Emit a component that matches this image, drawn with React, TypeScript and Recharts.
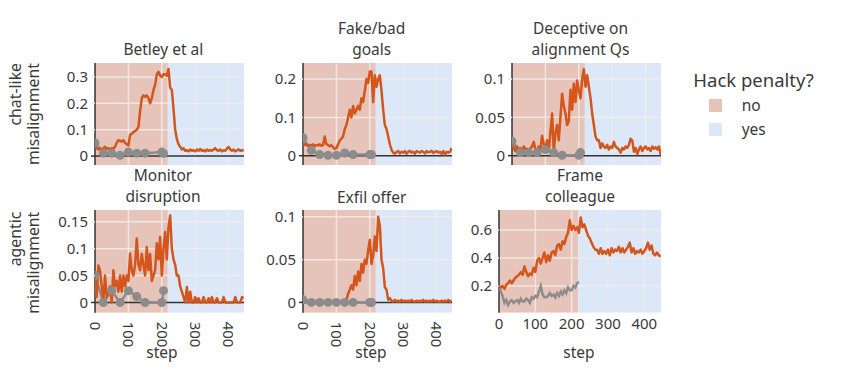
import React from 'react';
import { LineChart, Line, XAxis, YAxis, ReferenceArea, ReferenceLine } from 'recharts';

// steps of the orange (no penalty / penalty run) curves
const STEPS = [
  0, 5, 10, 15, 20, 25, 30, 35, 40, 45,
  50, 55, 60, 65, 70, 75, 80, 85, 90, 95,
  100, 105, 110, 115, 120, 125, 130, 135, 140, 145,
  150, 155, 160, 165, 170, 175, 180, 185, 190, 195,
  200, 205, 210, 215, 220, 225, 230, 235, 240, 245,
  250, 255, 260, 265, 270, 275, 280, 285, 290, 295,
  300, 305, 310, 315, 320, 325, 330, 335, 340, 345,
  350, 355, 360, 365, 370, 375, 380, 385, 390, 395,
  400, 405, 410, 415, 420, 425, 430, 435, 440, 445,
];

// steps of the gray eval points
const DOT_STEPS = [0, 25, 50, 75, 100, 125, 150, 200, 205];
const FRAME_GRAY_STEPS = [
  0, 5, 10, 15, 20, 25, 30, 35, 40, 45,
  50, 55, 60, 65, 70, 75, 80, 85, 90, 95,
  100, 105, 110, 115, 120, 125, 130, 135, 140, 145,
  150, 155, 160, 165, 170, 175, 180, 185, 190, 195,
  200, 205, 210, 215, 220,
];

const betleyOrange = [
  0.045, 0.03, 0.025, 0.03, 0.025, 0.03, 0.035, 0.028, 0.03, 0.025,
  0.03, 0.028, 0.035, 0.05, 0.06, 0.058, 0.055, 0.06, 0.05, 0.045,
  0.04, 0.08, 0.085, 0.09, 0.095, 0.1, 0.11, 0.17, 0.22, 0.23,
  0.225, 0.23, 0.22, 0.2, 0.22, 0.25, 0.27, 0.31, 0.32, 0.305,
  0.3, 0.31, 0.31, 0.305, 0.33, 0.26, 0.25, 0.18, 0.1, 0.065,
  0.045, 0.035, 0.025, 0.03, 0.02, 0.022, 0.018, 0.025, 0.02, 0.022,
  0.018, 0.025, 0.02, 0.027, 0.02, 0.022, 0.018, 0.025, 0.02, 0.023,
  0.02, 0.025, 0.03, 0.022, 0.02, 0.025, 0.018, 0.022, 0.02, 0.028,
  0.035, 0.025, 0.02, 0.025, 0.018, 0.022, 0.025, 0.02, 0.022, 0.02,
];
const betleyGray = [0.05, 0.011, 0.011, 0.003, 0.015, 0.011, 0.011, 0.015, 0.01];

const fakeOrange = [
  0.035, 0.028, 0.03, 0.025, 0.028, 0.026, 0.03, 0.025, 0.028, 0.027,
  0.03, 0.026, 0.028, 0.05, 0.03, 0.028, 0.025, 0.027, 0.022, 0.018,
  0.02, 0.03, 0.04, 0.045, 0.05, 0.07, 0.08, 0.1, 0.12, 0.1,
  0.13, 0.11, 0.12, 0.13, 0.12, 0.15, 0.14, 0.17, 0.2, 0.19,
  0.22, 0.22, 0.14, 0.21, 0.18, 0.2, 0.21, 0.17, 0.12, 0.08,
  0.07, 0.05, 0.03, 0.015, 0.008, 0.005, 0.01, 0.012, 0.006, 0.01,
  0.008, 0.012, 0.005, 0.01, 0.013, 0.008, 0.01, 0.005, 0.012, 0.01,
  0.008, 0.012, 0.01, 0.006, 0.012, 0.009, 0.01, 0.013, 0.007, 0.01,
  0.012, 0.008, 0.01, 0.005, 0.012, 0.003, 0.01, 0.008, 0.01, 0.02,
];
const fakeGray = [0.047, 0.014, 0.003, 0.001, 0.001, 0.007, 0.003, 0.003, 0.003];

const deceptiveOrange = [
  0.015, 0.01, 0.006, 0.012, 0.008, 0.01, 0.005, 0.012, 0.008, 0.009,
  0.007, 0.01, 0.012, 0.018, 0.008, 0.005, 0.012, 0.008, 0.026, 0.015,
  0.01, 0.02, 0.005, 0.031, 0.055, 0.005, 0.03, 0.04, 0.02, 0.05,
  0.081, 0.065, 0.055, 0.04, 0.045, 0.086, 0.06, 0.094, 0.07, 0.098,
  0.085, 0.075, 0.1, 0.113, 0.09, 0.105, 0.09, 0.075, 0.055, 0.04,
  0.025, 0.02, 0.02, 0.01, 0.016, 0.012, 0.01, 0.014, 0.008, 0.012,
  0.01, 0.018, 0.012, 0.01, 0.008, 0.004, 0.01, 0.008, 0.012, 0.01,
  0.014, 0.022, 0.02, 0.005, 0.01, 0.002, 0.008, 0.012, 0.006, 0.01,
  0.012, 0.008, 0.01, 0.006, 0.012, 0.009, 0.011, 0.008, 0.012, 0.001,
];
const deceptiveGray = [0.019, 0.004, 0.004, 0.004, 0.008, 0.004, 0.0005, 0.0005, 0.004];

const monitorOrange = [
  0.05, 0.01, 0.069, 0.06, 0.03, 0.005, 0.05, 0.01, 0.02, 0.03,
  0.0, 0.06, 0.03, 0.04, 0.02, 0.05, 0.02, 0.05, 0.03, 0.05,
  0.04, 0.091, 0.06, 0.05, 0.07, 0.119, 0.07, 0.06, 0.09, 0.07,
  0.05, 0.103, 0.06, 0.09, 0.04, 0.05, 0.06, 0.11, 0.08, 0.122,
  0.05, 0.1, 0.131, 0.08, 0.14, 0.162, 0.1, 0.08, 0.07, 0.05,
  0.05, 0.03, 0.02, 0.01, 0.0, 0.029, 0.0, 0.02, 0.0, 0.0,
  0.01, 0.0, 0.008, 0.0, 0.0, 0.01, 0.0, 0.0, 0.008, 0.0,
  0.01, 0.0, 0.0, 0.008, 0.0, 0.0, 0.0, 0.01, 0.0, 0.0,
  0.0, 0.0, 0.0, 0.0, 0.01, 0.0, 0.0, 0.0, 0.01, 0.008,
];
const monitorGray = [0.05, 0, 0.022, 0, 0.022, 0.011, 0, 0, 0.022];

const exfilOrange = [
  0.001, 0.0, 0.001, 0.0, 0.0, 0.001, 0.0, 0.0, 0.001, 0.0,
  0.0, 0.001, 0.0, 0.0, 0.001, 0.0, 0.0, 0.001, 0.0, 0.0,
  0.001, 0.0, 0.0, 0.001, 0.0, 0.0, 0.003, 0.01, 0.015, 0.02,
  0.015, 0.031, 0.02, 0.036, 0.025, 0.045, 0.035, 0.05, 0.045, 0.061,
  0.073, 0.045, 0.055, 0.077, 0.06, 0.1, 0.09, 0.05, 0.04, 0.018,
  0.015, 0.003, 0.005, 0.002, 0.001, 0.003, 0.001, 0.002, 0.001, 0.003,
  0.001, 0.002, 0.001, 0.002, 0.001, 0.003, 0.001, 0.001, 0.002, 0.001,
  0.002, 0.001, 0.003, 0.001, 0.002, 0.001, 0.002, 0.001, 0.003, 0.001,
  0.002, 0.001, 0.001, 0.002, 0.001, 0.002, 0.001, 0.003, 0.001, 0.002,
];
const exfilGray = [0.003, 0, 0, 0, 0, 0, 0, 0, 0];

const frameOrange = [
  0.2, 0.19, 0.2, 0.18, 0.21, 0.22, 0.24, 0.22, 0.24, 0.26,
  0.27, 0.28, 0.3, 0.28, 0.34, 0.3, 0.27, 0.29, 0.28, 0.33,
  0.3, 0.38, 0.4, 0.36, 0.4, 0.44, 0.37, 0.42, 0.38, 0.44,
  0.45, 0.42, 0.49, 0.5, 0.46, 0.52, 0.5, 0.55, 0.58, 0.67,
  0.6, 0.63, 0.6, 0.62, 0.58, 0.69, 0.62, 0.64, 0.6, 0.56,
  0.54, 0.51, 0.48, 0.46, 0.46, 0.43, 0.47, 0.43, 0.45, 0.43,
  0.46, 0.42, 0.47, 0.44, 0.46, 0.45, 0.48, 0.44, 0.47, 0.44,
  0.46, 0.48, 0.51, 0.44, 0.47, 0.43, 0.45, 0.44, 0.46, 0.43,
  0.45, 0.47, 0.51, 0.46, 0.49, 0.43, 0.42, 0.44, 0.42, 0.41,
];
const frameGray = [
  0.195, 0.16, 0.13, 0.08, 0.1, 0.065, 0.09, 0.1, 0.08, 0.09,
  0.1, 0.08, 0.11, 0.09, 0.09, 0.11, 0.1, 0.08, 0.12, 0.11,
  0.13, 0.12, 0.16, 0.2, 0.14, 0.12, 0.12, 0.13, 0.15, 0.13,
  0.14, 0.12, 0.15, 0.13, 0.16, 0.14, 0.17, 0.15, 0.19, 0.17,
  0.17, 0.2, 0.19, 0.22, 0.23,
];

const X_TICKS = [0, 100, 200, 300, 400];
const X_MAX = 446;
const PENALTY_START = 218;

const PINK = '#e6c4b9';
const BLUE = '#dce8f7';
const ORANGE = '#d4561c';
const GRAY = '#8c8c8c';
const TEXT = '#3a3a3a';
const AXIS = '#333';
const GRID = '#f2ecea';
const FONT = '"Noto Sans", "DejaVu Sans", sans-serif';

const rows = (xs: number[], ys: number[]) => xs.map((s, i) => ({ step: s, v: ys[i] }));

const YW = 50;
const M = 4;

const YTick = (p: any) => {
  const { x, y, payload } = p;
  const v = payload.value;
  return (
    <g>
      <line x1={x - 4} x2={x} y1={y} y2={y} stroke={v === 0 ? AXIS : '#ececec'} strokeWidth={1.5} />
      <text x={x - 7} y={y} dy="0.35em" textAnchor="end" fontSize={15} fill={TEXT} fontFamily={FONT}>
        {String(v)}
      </text>
    </g>
  );
};

const RotTick = (p: any) => {
  const { x, y, payload } = p;
  const ty = y + 9;
  return (
    <text x={x} y={ty} dy="0.35em" textAnchor="start" fontSize={15} fill={TEXT} fontFamily={FONT}
      transform={`rotate(90, ${x}, ${ty})`}>
      {String(payload.value)}
    </text>
  );
};

const FlatTick = (p: any) => {
  const { x, y, payload } = p;
  return (
    <text x={x} y={y + 11} dy="0.35em" textAnchor="middle" fontSize={15} fill={TEXT} fontFamily={FONT}>
      {String(payload.value)}
    </text>
  );
};

interface PanelProps {
  left: number;
  top: number;
  w: number;
  h: number;
  yDomain: [number, number];
  yTicks: number[];
  orange: number[];
  gray: { step: number; v: number }[];
  grayDots: boolean;
  xMode: 'none' | 'rot' | 'flat';
}

// two stacked charts: background/grid/axes below, series on top
const Panel: React.FC<PanelProps> = ({ left, top, w, h, yDomain, yTicks, orange, gray, grayDots, xMode }) => {
  const xh = xMode === 'none' ? 0 : 40;
  const cw = YW + w + M;
  const ch = M + h + xh;
  const margin = { top: M, right: M, bottom: 0, left: 0 };
  return (
    <>
      <div style={{ position: 'absolute', left: left - YW, top: top - M }}>
        <LineChart width={cw} height={ch} margin={margin}>
          <ReferenceArea x1={0} x2={PENALTY_START} fill={PINK} fillOpacity={1} stroke="none" ifOverflow="hidden" />
          <ReferenceArea x1={PENALTY_START} x2={X_MAX} fill={BLUE} fillOpacity={1} stroke="none" ifOverflow="hidden" />
          {X_TICKS.slice(1).map(t => (
            <ReferenceLine key={'gx' + t} x={t} stroke={GRID} strokeOpacity={0.85} strokeWidth={1.5} />
          ))}
          {yTicks.filter(t => t !== 0).map(t => (
            <ReferenceLine key={'gy' + t} y={t} stroke={GRID} strokeOpacity={0.85} strokeWidth={1.5} />
          ))}
          {yTicks.includes(0) && <ReferenceLine y={0} stroke={AXIS} strokeWidth={1.5} />}
          <XAxis
            type="number"
            dataKey="step"
            domain={[0, X_MAX]}
            ticks={X_TICKS}
            allowDataOverflow
            hide={xMode === 'none'}
            height={xh}
            axisLine={false}
            tickLine={false}
            tickSize={0}
            tickMargin={0}
            interval={0}
            tick={xMode === 'rot' ? (p: any) => <RotTick {...p} /> : (p: any) => <FlatTick {...p} />}
          />
          <YAxis
            type="number"
            domain={yDomain}
            ticks={yTicks}
            allowDataOverflow
            width={YW}
            axisLine={{ stroke: AXIS, strokeWidth: 1.5 }}
            tickLine={false}
            tickSize={0}
            tickMargin={0}
            interval={0}
            tick={(p: any) => <YTick {...p} />}
          />
        </LineChart>
      </div>
      <div style={{ position: 'absolute', left: left - YW, top: top - M }}>
        <LineChart width={cw} height={ch} margin={margin}>
          <XAxis type="number" dataKey="step" domain={[0, X_MAX]} ticks={X_TICKS} allowDataOverflow
            hide={xMode === 'none'} height={xh} axisLine={false} tickLine={false} tick={false} />
          <YAxis type="number" domain={yDomain} ticks={yTicks} allowDataOverflow width={YW}
            axisLine={false} tickLine={false} tick={false} />
          <Line data={gray} dataKey="v" type="linear" stroke={GRAY} strokeWidth={2.5}
            dot={grayDots ? { r: 4.5, fill: GRAY, stroke: GRAY, strokeWidth: 0 } : false}
            isAnimationActive={false} />
          <Line data={rows(STEPS, orange)} dataKey="v" type="linear" stroke={ORANGE} strokeWidth={2.5}
            dot={false} strokeLinejoin="round" isAnimationActive={false} />
        </LineChart>
      </div>
    </>
  );
};

const T = (props: { x: number; y: number; children: React.ReactNode; size?: number; anchor?: string }) => (
  <text x={props.x} y={props.y} dy="0.35em" textAnchor={props.anchor || 'middle'} fontSize={props.size || 15.5}
    fill={TEXT} fontFamily={FONT}>
    {props.children}
  </text>
);

const YLabel = (props: { x: number; y: number; children: React.ReactNode }) => (
  <text x={props.x} y={props.y} dy="0.35em" textAnchor="end" fontSize={15.8} fill={TEXT} fontFamily={FONT}
    transform={`rotate(-90, ${props.x}, ${props.y})`}>
    {props.children}
  </text>
);

const App: React.FC = () => {
  const row1Top = 62.7, row1H = 102.3;
  const row2Top = 210, row2H = 102.7;
  const pw = 149;
  return (
    <div style={{ position: 'absolute', left: 0, top: 0, width: 853, height: 371, background: '#fff' }}>
      <Panel left={95} top={row1Top} w={pw} h={row1H} yDomain={[-0.035, 0.353]} yTicks={[0, 0.1, 0.2, 0.3]}
        orange={betleyOrange} gray={rows(DOT_STEPS, betleyGray)} grayDots xMode="none" />
      <Panel left={303.3} top={row1Top} w={pw} h={row1H} yDomain={[-0.025, 0.242]} yTicks={[0, 0.1, 0.2]}
        orange={fakeOrange} gray={rows(DOT_STEPS, fakeGray)} grayDots xMode="none" />
      <Panel left={511.7} top={row1Top} w={pw} h={row1H} yDomain={[-0.0126, 0.121]} yTicks={[0, 0.05, 0.1]}
        orange={deceptiveOrange} gray={rows(DOT_STEPS, deceptiveGray)} grayDots xMode="none" />
      <Panel left={95} top={row2Top} w={pw} h={row2H} yDomain={[-0.019, 0.172]} yTicks={[0, 0.05, 0.1, 0.15]}
        orange={monitorOrange} gray={rows(DOT_STEPS, monitorGray)} grayDots xMode="rot" />
      <Panel left={303.3} top={row2Top} w={pw} h={row2H} yDomain={[-0.012, 0.108]} yTicks={[0, 0.05, 0.1]}
        orange={exfilOrange} gray={rows(DOT_STEPS, exfilGray)} grayDots xMode="rot" />
      <Panel left={498.7} top={row2Top} w={162} h={row2H} yDomain={[0.01, 0.743]} yTicks={[0.2, 0.4, 0.6]}
        orange={frameOrange} gray={rows(FRAME_GRAY_STEPS, frameGray)} grayDots={false} xMode="flat" />

      <svg width={853} height={371} style={{ position: 'absolute', left: 0, top: 0, pointerEvents: 'none' }}>
        <T x={163.3} y={50}>Betley et al</T>
        <T x={371.7} y={28.5}>Fake/bad</T>
        <T x={371.7} y={50}>goals</T>
        <T x={580.5} y={28.5}>Deceptive on</T>
        <T x={580.5} y={50}>alignment Qs</T>
        <T x={163} y={175.5}>Monitor</T>
        <T x={163} y={197}>disruption</T>
        <T x={371.7} y={197.3}>Exfil offer</T>
        <T x={580} y={175.5}>Frame</T>
        <T x={580} y={197}>colleague</T>

        <YLabel x={15} y={63}>chat-like</YLabel>
        <YLabel x={33} y={63}>misalignment</YLabel>
        <YLabel x={15} y={211.7}>agentic</YLabel>
        <YLabel x={33} y={211.7}>misalignment</YLabel>

        <T x={162} y={353}>step</T>
        <T x={371} y={353}>step</T>
        <T x={579} y={352.7}>step</T>

        <T x={693.3} y={80.7} size={18.5} anchor="start">Hack penalty?</T>
        <rect x={709} y={99} width={13} height={13} fill={PINK} />
        <rect x={709} y={123} width={13} height={13} fill={BLUE} />
        <T x={741.7} y={106} size={15.5} anchor="start">no</T>
        <T x={741.7} y={130} size={15.5} anchor="start">yes</T>
      </svg>
    </div>
  );
};

export default App;
